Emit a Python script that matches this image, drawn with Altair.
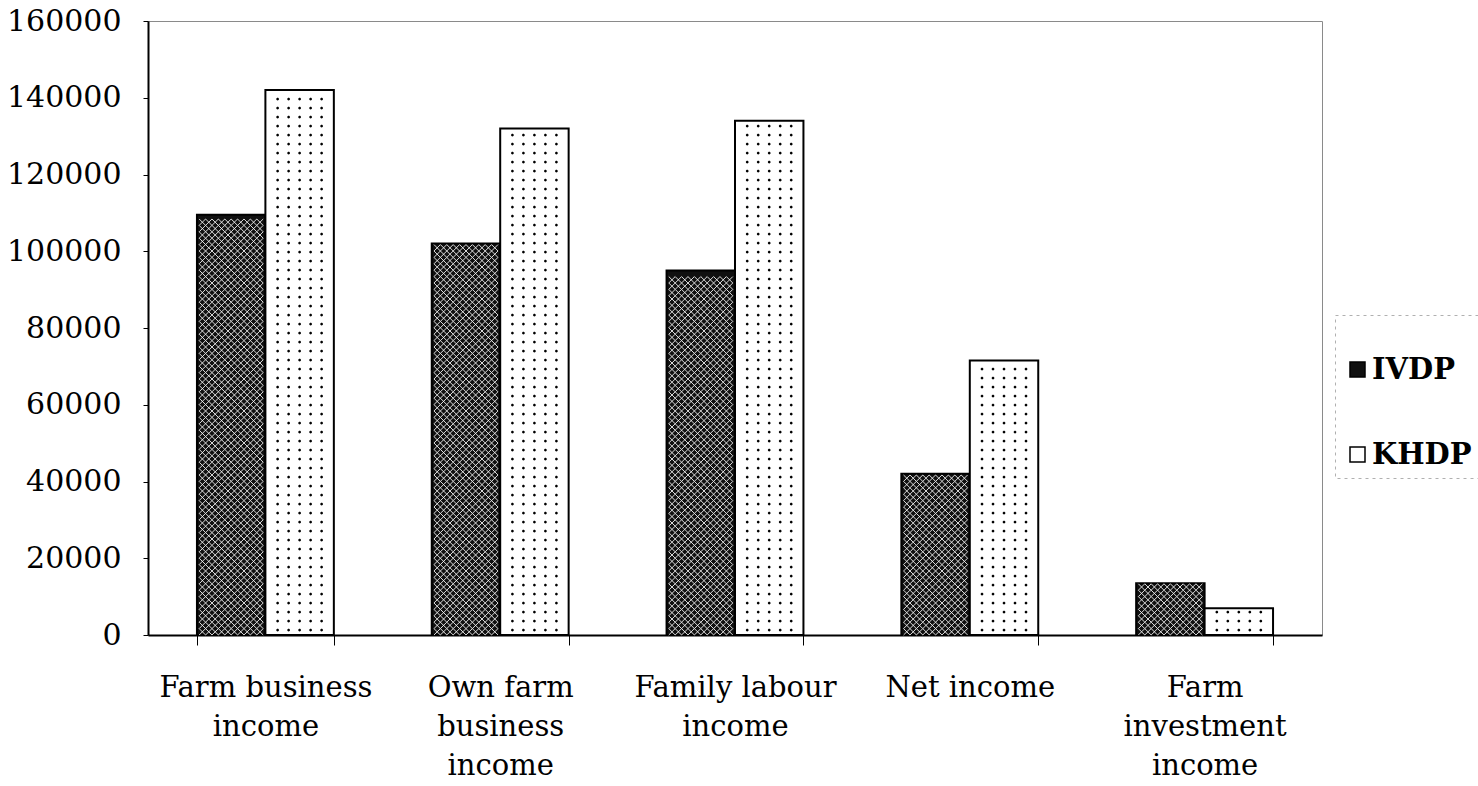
import altair as alt
import pandas as pd

# Income categories (line breaks mark where axis labels wrap)
categories = [
    "Farm business\nincome",
    "Own farm\nbusiness\nincome",
    "Family labour\nincome",
    "Net income",
    "Farm\ninvestment\nincome",
]
schemes = ["IVDP", "KHDP"]
ivdp_values = [109500, 102000, 95000, 42000, 13500]
khdp_values = [142000, 132000, 134000, 71500, 7000]

records = []
for cat, a, b in zip(categories, ivdp_values, khdp_values):
    records.append({"category": cat, "scheme": "IVDP", "income": a})
    records.append({"category": cat, "scheme": "KHDP", "income": b})
df = pd.DataFrame(records)

SERIF = "DejaVu Serif"
PLOT_W, PLOT_H, Y_MAX = 1174, 614, 160000
PX_PER_UNIT = PLOT_H / Y_MAX

# --- fill textures, drawn as rows of custom point symbols -----------------
# Cross-hatch: a row of square "X" cells; stacked rows join into a lattice.
HATCH_W, HATCH_N = 64, 10
hatch_cell = 2.0 / HATCH_N
hatch_path = " ".join(
    f"M{-1 + i * hatch_cell:.4f},{-hatch_cell / 2:.4f}L{-1 + (i + 1) * hatch_cell:.4f},{hatch_cell / 2:.4f}"
    f"M{-1 + (i + 1) * hatch_cell:.4f},{-hatch_cell / 2:.4f}L{-1 + i * hatch_cell:.4f},{hatch_cell / 2:.4f}"
    for i in range(HATCH_N)
)
hatch_step = (HATCH_W / HATCH_N) / PX_PER_UNIT

# Dots: five small discs per row
DOT_W = 55
dot_r = 0.05
dot_path = " ".join(
    f"M{cx - dot_r:.3f},0a{dot_r},{dot_r} 0 1,0 {2 * dot_r:.3f},0a{dot_r},{dot_r} 0 1,0 {-2 * dot_r:.3f},0Z"
    for cx in (-0.8, -0.4, 0.0, 0.4, 0.8)
)
dot_step = 9.0 / PX_PER_UNIT

x_enc = alt.X(
    "category:N",
    sort=categories,
    scale=alt.Scale(paddingInner=0.417, paddingOuter=0.2085),
    axis=alt.Axis(
        title=None,
        labelAngle=0,
        labelExpr="split(datum.label, '\\n')",
        labelFont=SERIF,
        labelFontSize=29,
        labelLineHeight=39,
        labelColor="black",
        labelLimit=0,
        labelPadding=28,
        tickBand="extent",
        tickSize=10,
        tickColor="black",
        tickWidth=1,
        domainColor="black",
        domainWidth=2,
    ),
)
x_plain = alt.X("category:N", sort=categories)
xoff_enc = alt.XOffset(
    "scheme:N", sort=schemes,
    scale=alt.Scale(domain=schemes, paddingInner=0, paddingOuter=0),
)
xoff_plain = alt.XOffset("scheme:N", sort=schemes)

y_enc = alt.Y(
    "income:Q",
    scale=alt.Scale(domain=[0, Y_MAX], nice=False),
    axis=alt.Axis(
        title=None,
        values=list(range(0, Y_MAX + 1, 20000)),
        format="d",
        grid=False,
        labelFont=SERIF,
        labelFontSize=30,
        labelColor="black",
        labelPadding=22,
        tickSize=5,
        tickColor="black",
        domainColor="black",
        domainWidth=2,
    ),
)

bars = alt.Chart(df).mark_bar(stroke="black", strokeWidth=2, opacity=1).encode(
    x=x_enc,
    xOffset=xoff_enc,
    y=y_enc,
    fill=alt.Fill(
        "scheme:N",
        sort=schemes,
        scale=alt.Scale(domain=schemes, range=["#101010", "#ffffff"]),
        legend=alt.Legend(
            title=" ",
            titleFontSize=18,
            titlePadding=14,
            orient="none",
            legendX=1187,
            legendY=294,
            symbolType="square",
            symbolSize=225,
            symbolStrokeColor="black",
            symbolStrokeWidth=1.5,
            labelFont=SERIF,
            labelFontSize=29,
            labelFontWeight="bold",
            labelColor="black",
            labelOffset=0,
            rowPadding=55,
        ),
    ),
)

hatch = (
    alt.Chart(df)
    .transform_filter("datum.scheme == 'IVDP'")
    .transform_calculate(row=f"sequence({hatch_step / 2}, datum.income - {hatch_step / 2 - 1}, {hatch_step})")
    .transform_flatten(["row"])
    .mark_point(shape=hatch_path, size=HATCH_W ** 2, filled=False, stroke="#f4f4f4",
                strokeWidth=0.9, opacity=1)
    .encode(x=x_plain, xOffset=xoff_plain, y=alt.Y("row:Q"))
)

dots = (
    alt.Chart(df)
    .transform_filter("datum.scheme == 'KHDP'")
    .transform_calculate(row=f"sequence(1300, datum.income - 1000, {dot_step})")
    .transform_flatten(["row"])
    .mark_point(shape=dot_path, size=DOT_W ** 2, filled=True, fill="black",
                strokeWidth=0, opacity=1)
    .encode(x=x_plain, xOffset=xoff_plain, y=alt.Y("row:Q"))
)

chart = (
    alt.layer(bars, hatch, dots)
    .properties(
        width=PLOT_W,
        height=PLOT_H,
        autosize=alt.AutoSizeParams(type="none"),
        padding={"left": 148, "top": 21, "right": 156, "bottom": 151},
        background="white",
    )
    .configure_view(stroke="#8a8a8a", strokeWidth=1)
    .configure_legend(strokeColor="#b0b0b0", strokeDash=[3, 4], strokeWidth=1, padding=8)
)

chart.save("out.html", embed_options={"renderer": "svg", "actions": False})
